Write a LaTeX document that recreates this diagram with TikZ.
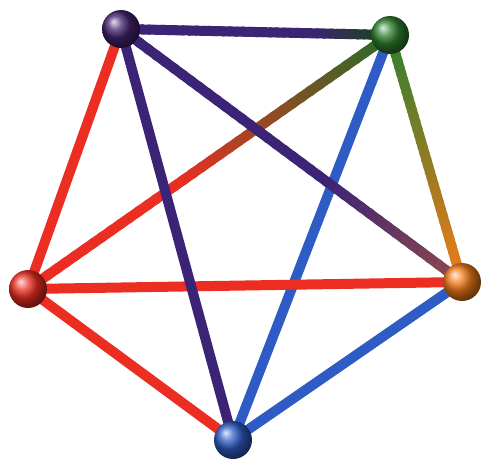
\documentclass[tikz,border=0pt]{standalone}
\usetikzlibrary{calc}
\definecolor{rojo}{HTML}{EC2E22}
\definecolor{indigo}{HTML}{3B2376}
\definecolor{azul}{HTML}{2F5BC4}
\definecolor{verde}{HTML}{2F7F2F}
\definecolor{naranja}{HTML}{F07A18}
\definecolor{morado}{HTML}{43226F}

% edge from #1 to #2: colour #3, turning into #4 from fraction #5 on
\newcommand{\gradlink}[5]{%
  \foreach \k in {0,...,39}{
    \pgfmathtruncatemacro{\mixpct}{max(0,(\k/39-#5)/(1-#5))*100}
    \draw[link, draw=#4!\mixpct!#3] ($(#1)!\k/40!(#2)$) -- ($(#1)!{(\k+1.4)/40}!(#2)$);
  }}

\begin{document}
\begin{tikzpicture}[x=1pt, y=-1pt,
    ball/.style={circle, minimum size=38pt, inner sep=0pt, shading=ball},
    link/.style={line width=10pt, line cap=butt}]
  \useasboundingbox (0,0) rectangle (482,460);

  \coordinate (p) at (121,29);
  \coordinate (g) at (390,35);
  \coordinate (o) at (462,282);
  \coordinate (b) at (233,440);
  \coordinate (r) at (28,289);

  \gradlink{r}{g}{rojo}{verde!85!black}{0.4}

  % plain edges
  \draw[link, azul] (b) -- (g);
  \draw[link, rojo] (r) -- (o);
  \draw[link, rojo] (r) -- (b);
  \draw[link, rojo] (r) -- (p);
  \draw[link, azul] (b) -- (o);
  \draw[link, indigo] (p) -- (b);

  % graded edges
  \gradlink{p}{o}{indigo}{naranja!45!indigo}{0.6}
  \gradlink{p}{g}{indigo}{verde!55!black}{0.7}
  \gradlink{g}{o}{verde}{naranja}{0}

  \node[ball, ball color=morado] (pv) at (p) {};
  \node[ball, ball color=verde] (gv) at (g) {};
  \node[ball, ball color=naranja] (ov) at (o) {};
  \node[ball, ball color=azul] (bv) at (b) {};
  \node[ball, ball color=rojo] (rv) at (r) {};
\end{tikzpicture}
\end{document}
